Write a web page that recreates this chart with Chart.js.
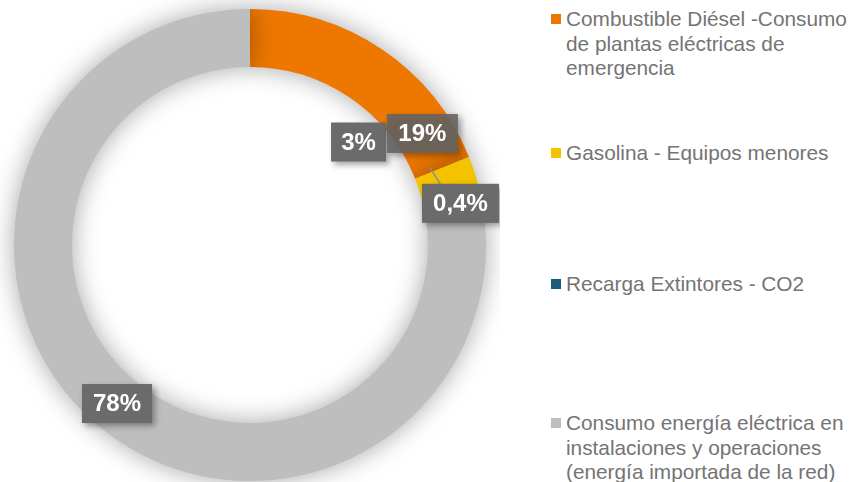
<!DOCTYPE html>
<html>
<head>
<meta charset="utf-8">
<script src="https://cdn.jsdelivr.net/npm/chart.js@4/dist/chart.umd.min.js"></script>
<style>
  html, body { margin: 0; padding: 0; background: #fff; }
  #wrap { position: relative; width: 857px; height: 482px; overflow: hidden; }
  #chartBox { position: absolute; left: 0; top: 0; width: 500px; height: 482px; }
  .leg { position: absolute; left: 551px; width: 306px; font-family: "Liberation Sans", Arial, sans-serif;
         font-size: 20.8px; line-height: 24.5px; color: #747474; }
  .leg .sw { position: absolute; left: 0; top: 7px; width: 10px; height: 10px; }
  .leg .tx { margin-left: 15px; }
</style>
</head>
<body>
<div id="wrap">
  <div id="chartBox"><canvas id="c"></canvas></div>
</div>
<script>
// ---- data ----
const categories = [
  "Combustible Diésel -Consumo de plantas eléctricas de emergencia",
  "Gasolina - Equipos menores",
  "Recarga Extintores - CO2",
  "Consumo energía eléctrica en instalaciones y operaciones (energía importada de la red)"
];
const values = [19, 3, 0.4, 78];
const valueLabels = ["19%", "3%", "0,4%", "78%"];

// ---- styling / layout (not data) ----
const colors = ["#EE7700", "#F4C300", "#1B5A7D", "#BEBEBE"];
const legendTops = [7, 141, 272, 411];
// label box centres in polar coords relative to the doughnut (angle deg clockwise from top, fraction of outer radius)
const labelPolar = [[57.1, 0.87], [46.5, 0.634], [78.8, 0.909], [220, 0.877]];
const labelBoxW = [71, 55, 77, 70];
const leaderFor = 2; // label with a leader line
const leaderAnchor = [66.8, 0.83];

// legend
const wrap = document.getElementById('wrap');
categories.forEach((name, i) => {
  const d = document.createElement('div');
  d.className = 'leg';
  d.style.top = legendTops[i] + 'px';
  d.innerHTML = '<div class="sw" style="background:' + colors[i] + '"></div><div class="tx"></div>';
  d.querySelector('.tx').textContent = name;
  wrap.appendChild(d);
});

function polar(meta, angDeg, frac) {
  const arc = meta.data[0];
  const a = angDeg * Math.PI / 180;
  const r = arc.outerRadius * frac;
  return { x: arc.x + r * Math.sin(a), y: arc.y - r * Math.cos(a) };
}

const shadowPlugin = {
  id: 'ringShadow',
  beforeDatasetsDraw(chart) {
    const ctx = chart.ctx;
    ctx.save();
    ctx.shadowColor = 'rgba(0,0,0,0.35)';
    ctx.shadowBlur = 26;
    ctx.shadowOffsetX = 0;
    ctx.shadowOffsetY = 0;
  },
  afterDatasetsDraw(chart) {
    chart.ctx.restore();
  }
};

const labelPlugin = {
  id: 'boxLabels',
  afterDatasetsDraw(chart) {
    const ctx = chart.ctx;
    const meta = chart.getDatasetMeta(0);
    ctx.save();
    // leader line
    const lp = polar(meta, labelPolar[leaderFor][0], labelPolar[leaderFor][1]);
    const an = polar(meta, leaderAnchor[0], leaderAnchor[1]);
    ctx.strokeStyle = '#8c8c8c';
    ctx.lineWidth = 1.5;
    ctx.beginPath();
    ctx.moveTo(an.x, an.y);
    ctx.lineTo(lp.x - 20, lp.y - 19);
    ctx.stroke();

    const order = [3, 2, 1, 0];
    order.forEach(i => {
      const p = polar(meta, labelPolar[i][0], labelPolar[i][1]);
      const w = labelBoxW[i], h = 39;
      ctx.save();
      ctx.shadowColor = 'rgba(0,0,0,0.35)';
      ctx.shadowBlur = 6;
      ctx.shadowOffsetX = 3;
      ctx.shadowOffsetY = 3;
      ctx.fillStyle = i === 0 ? 'rgba(100,100,100,0.88)' : '#6b6b6b';
      ctx.fillRect(p.x - w / 2, p.y - h / 2, w, h);
      ctx.restore();
      ctx.fillStyle = '#ffffff';
      ctx.font = 'bold 24px "Liberation Sans", Arial, sans-serif';
      ctx.textAlign = 'center';
      ctx.textBaseline = 'middle';
      ctx.fillText(valueLabels[i], p.x, p.y + 1);
    });
    ctx.restore();
  }
};

new Chart(document.getElementById('c'), {
  type: 'doughnut',
  data: {
    labels: categories,
    datasets: [{
      data: values,
      backgroundColor: colors,
      borderWidth: 0,
      hoverOffset: 0
    }]
  },
  options: {
    responsive: true,
    maintainAspectRatio: false,
    animation: false,
    cutout: '75.4%',
    rotation: 0,
    layout: { padding: { top: 9, bottom: 1, left: 0, right: 0 } },
    plugins: {
      legend: { display: false },
      tooltip: { enabled: false }
    }
  },
  plugins: [shadowPlugin, labelPlugin]
});
</script>
</body>
</html>
